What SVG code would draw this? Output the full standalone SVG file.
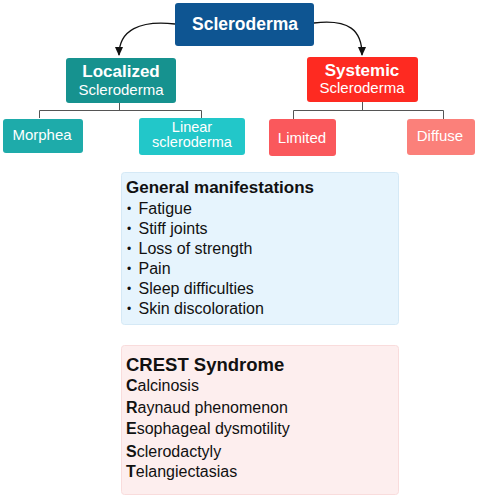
<svg xmlns="http://www.w3.org/2000/svg" width="477" height="500" viewBox="0 0 477 500">
<defs>
<style>
text{font-family:"Liberation Sans",Arial,sans-serif;}
.w{fill:#fff;text-anchor:middle;}
.b{font-weight:bold;}
.k{fill:#111;}
.bul{font-size:12px;}
.con{fill:none;stroke:#555;stroke-width:1;}
.arr{fill:none;stroke:#111;stroke-width:1.3;}
</style>
<marker id="ah" markerWidth="10" markerHeight="10" refX="8" refY="5" orient="auto" markerUnits="userSpaceOnUse">
<path d="M0,1 L9,5 L0,9 z" fill="#111"/>
</marker>
</defs>
<rect width="477" height="500" fill="#fff"/>
<g id="connectors">
<path class="arr" d="M175,24 C140,20 119,30 119,55" marker-end="url(#ah)"/>
<path class="arr" d="M314,23 C349,19 362,30 362,55" marker-end="url(#ah)"/>
<path class="con" d="M119.5,103 V110.5 M39.5,118 V110.5 H201.5 V118"/>
<path class="con" d="M362.5,102 V110.5 M293.5,119 V110.5 H443.5 V119"/>
</g>
<g id="scleroderma">
<rect x="175" y="3" width="139" height="43" rx="3" fill="#0e5592"/>
<text class="w b" x="245" y="30" font-size="17.5">Scleroderma</text>
</g>
<g id="localized">
<rect x="66" y="58" width="110" height="45" rx="3" fill="#16928f"/>
<text class="w b" x="121" y="77" font-size="17">Localized</text>
<text class="w" x="121" y="95" font-size="15">Scleroderma</text>
</g>
<g id="systemic">
<rect x="307" y="57" width="111" height="45" rx="3" fill="#fe2a21"/>
<text class="w b" x="362" y="76" font-size="17">Systemic</text>
<text class="w" x="362" y="93" font-size="15">Scleroderma</text>
</g>
<g id="morphea">
<rect x="3" y="119" width="80" height="34" rx="3" fill="#1eabaa"/>
<text class="w" x="42" y="140" font-size="15">Morphea</text>
</g>
<g id="linear">
<rect x="139" y="118" width="106" height="37" rx="3" fill="#22c7c9"/>
<text class="w" x="192" y="131.5" font-size="14.5">Linear</text>
<text class="w" x="192" y="147" font-size="14.5">scleroderma</text>
</g>
<g id="limited">
<rect x="269" y="119" width="67" height="37" rx="3" fill="#fa585c"/>
<text class="w" x="302" y="143" font-size="15">Limited</text>
</g>
<g id="diffuse">
<rect x="407" y="119" width="68" height="36" rx="3" fill="#fb807a"/>
<text class="w" x="440" y="141" font-size="15">Diffuse</text>
</g>
<g id="general">
<rect x="121.5" y="172.5" width="277" height="152" rx="3" fill="#e6f4fd" stroke="#d5e9f6"/>
<text class="k b" x="126" y="193" font-size="17">General manifestations</text>
<g class="k" font-size="16">
<text class="bul" x="127" y="212.5">•</text><text x="138.5" y="213.5">Fatigue</text>
<text class="bul" x="127" y="232.5">•</text><text x="138.5" y="233.5">Stiff joints</text>
<text class="bul" x="127" y="252.5">•</text><text x="138.5" y="253.5">Loss of strength</text>
<text class="bul" x="127" y="272.5">•</text><text x="138.5" y="273.5">Pain</text>
<text class="bul" x="127" y="292.5">•</text><text x="138.5" y="293.5">Sleep difficulties</text>
<text class="bul" x="127" y="312.5">•</text><text x="138.5" y="313.5">Skin discoloration</text>
</g>
</g>
<g id="crest">
<rect x="121.5" y="345.5" width="277" height="149" rx="3" fill="#fdeeee" stroke="#f9dcdc"/>
<text class="k b" x="126" y="371" font-size="18.5">CREST Syndrome</text>
<g class="k" font-size="16">
<text x="126" y="391"><tspan class="b">C</tspan>alcinosis</text>
<text x="126" y="413"><tspan class="b">R</tspan>aynaud phenomenon</text>
<text x="126" y="434"><tspan class="b">E</tspan>sophageal dysmotility</text>
<text x="126" y="456.5"><tspan class="b">S</tspan>clerodactyly</text>
<text x="126" y="477"><tspan class="b">T</tspan>elangiectasias</text>
</g>
</g>
</svg>
